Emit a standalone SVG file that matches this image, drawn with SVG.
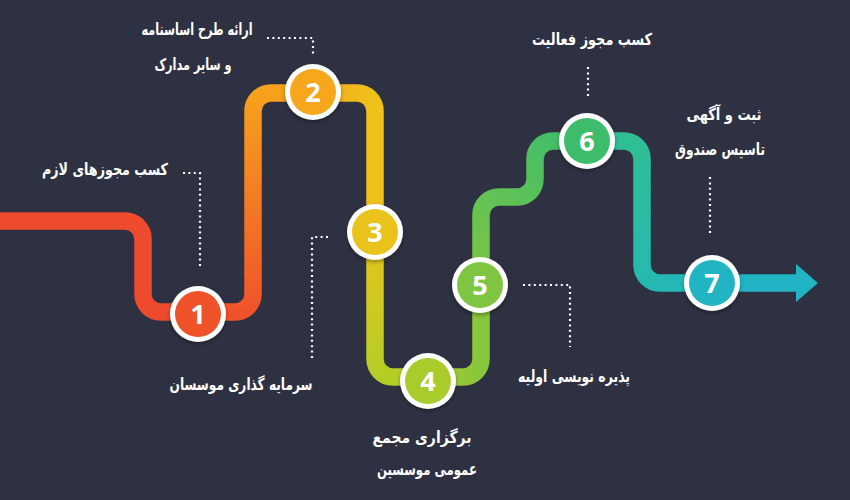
<svg xmlns="http://www.w3.org/2000/svg" width="850" height="500" viewBox="0 0 850 500">
<defs>
<style>
.seg{fill:none;stroke-width:17.5;stroke-linejoin:round}
.ring{fill:#ffffff}
.num{font-family:"Open Sans","DejaVu Sans",sans-serif;font-weight:bold;font-size:27px;fill:#ffffff;text-anchor:middle}
.lbl{font-family:"DejaVu Sans","Noto Sans",sans-serif;font-weight:bold;font-size:16.5px;fill:#ffffff;text-anchor:middle}
.dot{fill:none;stroke:#ffffff;stroke-width:2.2;stroke-dasharray:2 3.4}
</style>
<linearGradient id="g2" gradientUnits="userSpaceOnUse" x1="0" y1="312" x2="0" y2="93"><stop offset="0" stop-color="#f0532b"/><stop offset="1" stop-color="#f7a11c"/></linearGradient>
<linearGradient id="g3" gradientUnits="userSpaceOnUse" x1="313" y1="0" x2="375" y2="0"><stop offset="0" stop-color="#f7a81b"/><stop offset="1" stop-color="#eec21b"/></linearGradient>
<linearGradient id="g4" gradientUnits="userSpaceOnUse" x1="0" y1="232" x2="0" y2="377"><stop offset="0" stop-color="#e8c41c"/><stop offset="1" stop-color="#b4cd24"/></linearGradient>
<linearGradient id="g5" gradientUnits="userSpaceOnUse" x1="428" y1="0" x2="481" y2="0"><stop offset="0" stop-color="#a9cb2b"/><stop offset="1" stop-color="#88c63d"/></linearGradient>
<linearGradient id="g6" gradientUnits="userSpaceOnUse" x1="481" y1="285" x2="587" y2="141"><stop offset="0" stop-color="#7dc543"/><stop offset="1" stop-color="#3dbd6b"/></linearGradient>
<linearGradient id="g7" gradientUnits="userSpaceOnUse" x1="587" y1="141" x2="712" y2="283"><stop offset="0" stop-color="#32c08c"/><stop offset="1" stop-color="#22b7bb"/></linearGradient>
<filter id="sh" x="-30%" y="-30%" width="160%" height="160%"><feDropShadow dx="0" dy="2" stdDeviation="2" flood-color="#000" flood-opacity="0.35"/></filter>
</defs>
<rect width="850" height="500" fill="#2e3141"/>
<g id="connectors">
<path class="seg" stroke="#ee4a2e" d="M0 221 H125 A18 18 0 0 1 143 239 V294 A18 18 0 0 0 161 312 H198"/>
<path class="seg" stroke="url(#g2)" d="M198 312 H235 A18 18 0 0 0 253 294 V111 A18 18 0 0 1 271 93 H313"/>
<path class="seg" stroke="url(#g3)" d="M313 93 H357 A18 18 0 0 1 375 111 V232"/>
<path class="seg" stroke="url(#g4)" d="M375 232 V359 A18 18 0 0 0 393 377 H428"/>
<path class="seg" stroke="url(#g5)" d="M428 377 H463 A18 18 0 0 0 481 359 V285"/>
<path class="seg" stroke="url(#g6)" d="M481 285 V215 A18 18 0 0 1 499 197 H517 A18 18 0 0 0 535 179 V159 A18 18 0 0 1 553 141 H587"/>
<path class="seg" stroke="url(#g7)" d="M587 141 H624 A18 18 0 0 1 642 159 V265 A18 18 0 0 0 660 283 H712"/>
<path class="seg" stroke="#20b4c4" d="M712 283 H799"/>
<polygon points="796,264 818,283 796,302" fill="#20b4c4"/>
<path class="dot" d="M267 38 H313 V55"/>
<path class="dot" d="M183 173 H200 V268"/>
<path class="dot" d="M328 237 H312 V358"/>
<path class="dot" d="M523 285 H570 V347"/>
<path class="dot" d="M588 67 V97"/>
<path class="dot" d="M710 177 V233"/>
</g>
<g id="node1"><circle class="ring" cx="198" cy="314" r="28" filter="url(#sh)"/><circle cx="198" cy="314" r="23" fill="#ef5129"/><text class="num" x="198" y="324">1</text></g>
<g id="node2"><circle class="ring" cx="313" cy="92" r="28" filter="url(#sh)"/><circle cx="313" cy="92" r="23" fill="#f7a71b"/><text class="num" x="313" y="102">2</text></g>
<g id="node3"><circle class="ring" cx="375" cy="232" r="28" filter="url(#sh)"/><circle cx="375" cy="232" r="23" fill="#e9c31c"/><text class="num" x="375" y="242">3</text></g>
<g id="node4"><circle class="ring" cx="428" cy="381" r="28" filter="url(#sh)"/><circle cx="428" cy="381" r="23" fill="#a9cb2b"/><text class="num" x="428" y="391">4</text></g>
<g id="node5"><circle class="ring" cx="480" cy="285" r="28" filter="url(#sh)"/><circle cx="480" cy="285" r="23" fill="#80c542"/><text class="num" x="480" y="295">5</text></g>
<g id="node6"><circle class="ring" cx="587" cy="141" r="28" filter="url(#sh)"/><circle cx="587" cy="141" r="23" fill="#3dbd6b"/><text class="num" x="587" y="151">6</text></g>
<g id="node7"><circle class="ring" cx="712" cy="283" r="28" filter="url(#sh)"/><circle cx="712" cy="283" r="23" fill="#21b5c3"/><text class="num" x="712" y="293">7</text></g>
<g id="labels">
<text class="lbl" x="197" y="35" textLength="111" lengthAdjust="spacingAndGlyphs">ارائه طرح اساسنامه</text>
<text class="lbl" x="193" y="70" textLength="77" lengthAdjust="spacingAndGlyphs">و سایر مدارک</text>
<text class="lbl" x="105" y="175" textLength="126" lengthAdjust="spacingAndGlyphs">کسب مجوزهای لازم</text>
<text class="lbl" x="241" y="390" textLength="143" lengthAdjust="spacingAndGlyphs">سرمایه گذاری موسسان</text>
<text class="lbl" x="422" y="443" textLength="99" lengthAdjust="spacingAndGlyphs">برگزاری مجمع</text>
<text class="lbl" x="427" y="475" textLength="100" lengthAdjust="spacingAndGlyphs">عمومی موسسین</text>
<text class="lbl" x="574" y="382" textLength="112" lengthAdjust="spacingAndGlyphs">پذیره نویسی اولیه</text>
<text class="lbl" x="592" y="45" textLength="120" lengthAdjust="spacingAndGlyphs">کسب مجوز فعالیت</text>
<text class="lbl" x="724" y="120" textLength="75" lengthAdjust="spacingAndGlyphs">ثبت و آگهی</text>
<text class="lbl" x="720" y="155" textLength="90" lengthAdjust="spacingAndGlyphs">تاسیس صندوق</text>
</g>
</svg>
